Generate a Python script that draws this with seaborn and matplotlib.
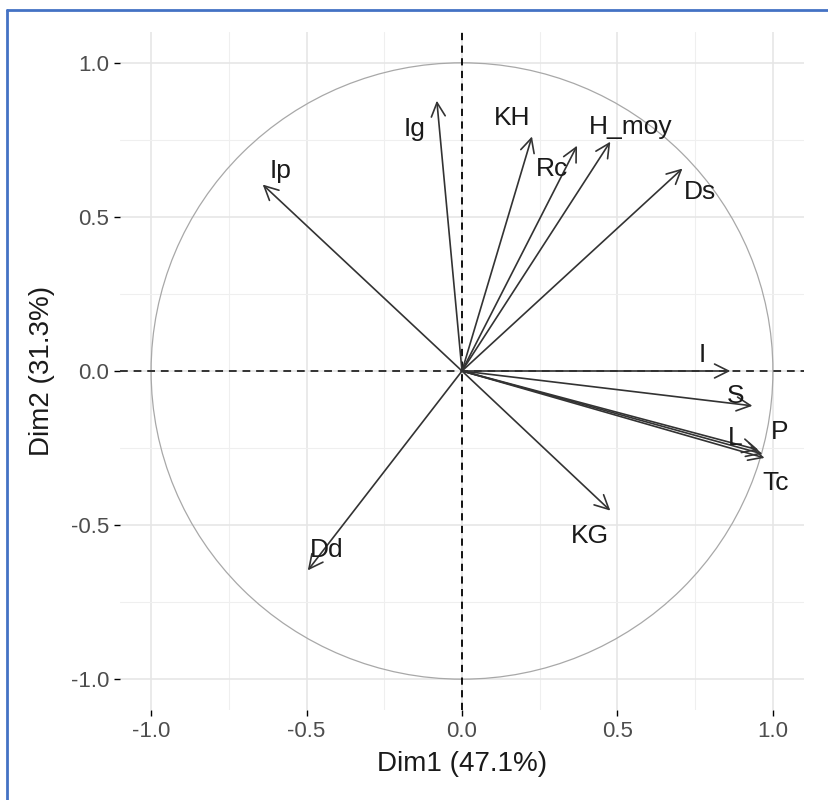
import numpy as np
import pandas as pd
import matplotlib
matplotlib.use("Agg")
import matplotlib.pyplot as plt
from matplotlib.patches import Circle
from matplotlib.lines import Line2D
import seaborn as sns

# variable coordinates on the first two dimensions
variables = ["Ig", "KH", "Rc", "H_moy", "Ds", "Ip", "I", "S", "L", "P", "Tc", "KG", "Dd"]
dim1 = [-0.081, 0.225, 0.370, 0.477, 0.709, -0.641, 0.863, 0.934, 0.953, 0.966, 0.973, 0.477, -0.496]
dim2 = [0.877, 0.761, 0.731, 0.744, 0.657, 0.605, 0.000, -0.113, -0.256, -0.269, -0.282, -0.453, -0.647]
ticks = [-1.0, -0.5, 0.0, 0.5, 1.0]
xlab = "Dim1 (47.1%)"
ylab = "Dim2 (31.3%)"

df = pd.DataFrame({"name": variables, "x": dim1, "y": dim2})

# label offsets (pixels) from arrow tip
lab_off = {
    "Ig": (-22, -28), "KH": (-20, 18), "Rc": (-25, -23), "H_moy": (20, 15),
    "Ds": (18, -23), "Ip": (18, 14), "I": (-28, 16), "S": (-17, 10),
    "L": (-23, 12), "P": (17, 22), "Tc": (11, -25), "KG": (-20, -25), "Dd": (19, 20),
}

sns.set_theme(style="whitegrid")
plt.rcParams['font.family'] = ['Liberation Sans', 'DejaVu Sans']

fig = plt.figure(figsize=(8.29, 8.0), dpi=100)
ax = fig.add_axes([120/829, 90/800, 684/829, 678/800])

ax.set_xlim(-1.1, 1.1)
ax.set_ylim(-1.1, 1.1)
ax.set_xticks(ticks)
ax.set_yticks(ticks)
ax.set_xticks([-0.75, -0.25, 0.25, 0.75], minor=True)
ax.set_yticks([-0.75, -0.25, 0.25, 0.75], minor=True)
ax.grid(which="major", color="#E6E6E6", linewidth=1.2)
ax.grid(which="minor", color="#EFEFEF", linewidth=0.8)
for sp in ax.spines.values():
    sp.set_visible(False)
ax.set_facecolor("white")

ax.tick_params(axis="both", which="major", length=4, width=1, color="black",
               labelsize=16, labelcolor="#4D4D4D", pad=4, bottom=True, left=True)
ax.tick_params(axis="both", which="minor", length=0)
ax.set_xticklabels([f"{t:.1f}" for t in ticks])
ax.set_yticklabels([f"{t:.1f}" for t in ticks])

# unit circle
ax.add_patch(Circle((0, 0), 1.0, fill=False, edgecolor="#A8A8A8", linewidth=0.9, zorder=2))

# reference lines
ax.axhline(0, color="#333333", linestyle=(0, (4, 3)), linewidth=1.4, zorder=3)
ax.axvline(0, color="black", linestyle=(0, (4, 3)), linewidth=1.3, zorder=3)

# arrows and labels
for _, r in df.iterrows():
    ax.annotate("", xy=(r.x, r.y), xytext=(0, 0), xycoords="data",
                arrowprops=dict(arrowstyle="->,head_length=0.5,head_width=0.25",
                                color="#333333", lw=1.2, shrinkA=0, shrinkB=0,
                                mutation_scale=20), zorder=4)
    dx, dy = lab_off[r["name"]]
    ax.annotate(r["name"], xy=(r.x, r.y), xytext=(dx, dy), textcoords="offset pixels",
                ha="center", va="center", fontsize=19, color="#1A1A1A", zorder=5)

ax.set_xlabel(xlab, fontsize=20, color="#1A1A1A")
ax.set_ylabel(ylab, fontsize=20, color="#1A1A1A")
ax.xaxis.set_label_coords(0.5, -(764 - 710) / 678)
ax.yaxis.set_label_coords(-(120 - 42) / 684, 0.5)
ax.xaxis.label.set_va("center")
ax.yaxis.label.set_va("center")

# blue frame (top and left edges)
fig.add_artist(Line2D([7.5/829, 7.5/829], [0, 1 - 9.5/800], color="#4472C4", linewidth=2))
fig.add_artist(Line2D([7.5/829, 1], [1 - 9.5/800, 1 - 9.5/800], color="#4472C4", linewidth=2))

fig.savefig("out.png", dpi=100)
